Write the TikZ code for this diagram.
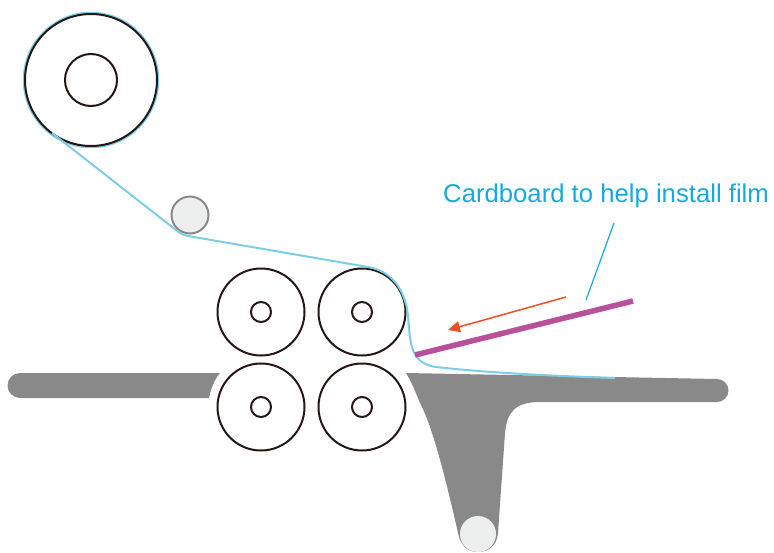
\documentclass[tikz,border=0pt]{standalone}
\usepackage{fontspec}
\setmainfont{Liberation Sans}
\usetikzlibrary{arrows.meta}
\definecolor{filmblue}{RGB}{125,205,232}
\definecolor{labelblue}{RGB}{20,170,225}
\definecolor{bedgray}{RGB}{137,137,137}
\definecolor{idlerfill}{RGB}{237,239,238}
\definecolor{rollerline}{RGB}{35,24,21}
\definecolor{cardpurple}{RGB}{184,80,155}
\definecolor{arroworange}{RGB}{240,78,35}
\tikzset{
  roller/.style={circle,draw=rollerline,line width=2pt,inner sep=0pt,minimum size=#1},
  idler/.style={circle,draw=bedgray,fill=idlerfill,line width=2pt,inner sep=0pt,minimum size=#1},
  film/.style={draw=filmblue,line width=2pt},
  bed/.style={fill=bedgray,draw=none},
  leader/.style={draw=labelblue,line width=1.2pt},
  cardboard/.style={draw=cardpurple,line width=5.5pt},
  pusharrow/.style={draw=arroworange,line width=1.5pt,-{Triangle[length=12pt,width=11pt]}},
  caption/.style={text=labelblue,font=\fontsize{25.7}{30}\selectfont,inner sep=0pt,anchor=west}
}
\begin{document}
\begin{tikzpicture}[x=1pt,y=-1pt]
\useasboundingbox (0,0) rectangle (774,552);
% beds
\path[bed] (20,373) -- (220,373) .. controls (214,380) and (211,389) .. (209,398) -- (20,398)
  arc[start angle=90,end angle=270,radius=12.5] -- cycle;
\path[bed] (406,373) -- (717,379) arc[start angle=-90,end angle=90,radius=11.5] -- (540,402)
  .. controls (515,402) and (507,412) .. (505,433) -- (498,533)
  .. controls (497,546) and (488,552) .. (478,552)
  .. controls (469,552) and (462,547) .. (459,537)
  .. controls (447,485) and (434,430) .. (420,403) .. controls (416,393) and (411,381) .. (406,373) -- cycle;
% film on supply roll
\node[circle,film,inner sep=0pt,minimum size=134.5pt] (filmroll) at (91,80) {};
% rollers
\node[roller=132pt] (supply) at (91,80) {};
\node[roller=52pt] (supplycore) at (91,80) {};
\node[idler=37pt] (guide) at (190,215) {};
\node[idler=36pt,draw=none] (lowerguide) at (478,534) {};
\foreach \n/\x/\y in {tl/261/312,tr/362/312,bl/261/407,br/362/407}{
  \node[roller=87pt] (\n) at (\x,\y) {};
  \node[roller=20pt] (\n core) at (\x,\y) {};
}
% film path
\coordinate (filmstart) at (52,133);
\coordinate (filmend) at (615,378);
\draw[film] (filmstart) -- (176,230) .. controls (180,233) and (183,235) .. (188,236)
  -- (368,267) .. controls (392,271) and (405,290) .. (408,315)
  .. controls (409,330) and (410,348) .. (416,356)
  .. controls (421,363) and (428,366) .. (436,367)
  .. controls (490,373) and (555,376) .. (filmend);
% cardboard
\coordinate (cardlow) at (415,355);
\coordinate (cardhigh) at (633,301);
\draw[cardboard] (cardlow) -- (cardhigh);
% push arrow
\coordinate (arrowtail) at (566,297);
\coordinate (arrowhead) at (448,330);
\draw[pusharrow] (arrowtail) -- (arrowhead);
% label
\node[caption] (label) at (443,196) {Cardboard to help install film};
\coordinate (leaderhigh) at (614,223);
\coordinate (leaderlow) at (586,300);
\draw[leader] (leaderhigh) -- (leaderlow);
\end{tikzpicture}
\end{document}
